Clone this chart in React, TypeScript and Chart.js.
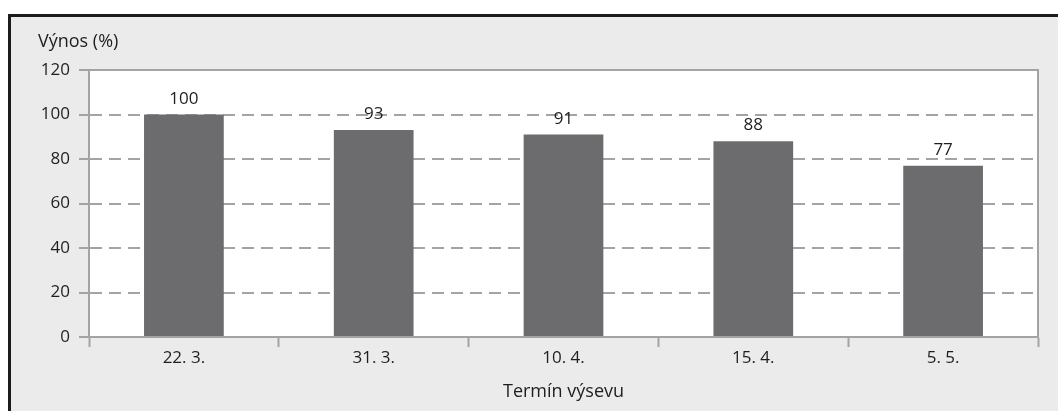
import React, { useEffect, useRef } from "react";
import { Chart, registerables } from "chart.js";

Chart.register(...registerables);

const categories = ["22. 3.", "31. 3.", "10. 4.", "15. 4.", "5. 5."];
const yieldValues = [100, 93, 91, 88, 77];
const yTicks = [0, 20, 40, 60, 80, 100, 120];
const yTitle = "Výnos (%)";
const xTitle = "Termín výsevu";

const FONT = "'Open Sans', 'Noto Sans', sans-serif";
const AXIS = "#a3a3a3";
const TEXT = "#1e1e1e";

const framePlugin = {
  id: "frame",
  beforeDraw(chart: any) {
    const { ctx, chartArea } = chart;
    ctx.save();
    ctx.fillStyle = "#ffffff";
    ctx.fillRect(chartArea.left, chartArea.top, chartArea.right - chartArea.left, chartArea.bottom - chartArea.top);
    ctx.restore();
  },
  afterDatasetsDraw(chart: any) {
    const { ctx, chartArea } = chart;
    ctx.save();
    ctx.strokeStyle = AXIS;
    ctx.lineWidth = 2;
    ctx.beginPath();
    ctx.moveTo(chartArea.left, chartArea.top);
    ctx.lineTo(chartArea.right, chartArea.top);
    ctx.lineTo(chartArea.right, chartArea.bottom);
    ctx.stroke();
    // data labels
    const meta = chart.getDatasetMeta(0);
    ctx.fillStyle = TEXT;
    ctx.font = `17px ${FONT}`;
    ctx.textAlign = "center";
    ctx.textBaseline = "alphabetic";
    meta.data.forEach((bar: any, i: number) => {
      ctx.fillText(String(yieldValues[i]), bar.x, bar.y - 11);
    });
    // y title
    ctx.textAlign = "left";
    ctx.textBaseline = "middle";
    ctx.font = `18px ${FONT}`;
    ctx.fillText(yTitle, 27, 25);
    ctx.restore();
  },
};

export default function App() {
  const ref = useRef<HTMLCanvasElement>(null);
  useEffect(() => {
    if (!ref.current) return;
    const chart = new Chart(ref.current, {
      type: "bar",
      data: {
        labels: categories,
        datasets: [
          {
            data: yieldValues,
            backgroundColor: "#6c6c6e",
            borderColor: "#8a8a8a",
            borderWidth: 0,
            barPercentage: 0.84,
            categoryPercentage: 0.5,
          },
        ],
      },
      options: {
        animation: false,
        responsive: false,
        maintainAspectRatio: false,
        layout: { padding: { left: 0, right: 20, top: 53, bottom: 0 } },
        plugins: { legend: { display: false }, tooltip: { enabled: false } },
        scales: {
          x: {
            offset: true,
            grid: {
              offset: true,
              drawOnChartArea: false,
              tickLength: 10,
              tickColor: AXIS,
              tickWidth: 2,
              color: AXIS,
            },
            border: { color: AXIS, width: 2 },
            ticks: { color: TEXT, font: { family: FONT, size: 17 }, padding: 1 },
            title: {
              display: true,
              text: xTitle,
              color: TEXT,
              font: { family: FONT, size: 18 },
              padding: { top: 0, bottom: 8 },
            },
            afterFit(scale: any) {
              scale.height = 74;
            },
          },
          y: {
            min: 0,
            max: 120,
            afterBuildTicks(scale: any) {
              scale.ticks = yTicks.map((v) => ({ value: v }));
            },
            grid: {
              color: (c: any) =>
                c.tick && (c.tick.value === 0 || c.tick.value === 120) ? "rgba(0,0,0,0)" : AXIS,
              lineWidth: 2,
              tickLength: 10,
              tickColor: AXIS,
              tickWidth: 2,
            },
            border: { color: AXIS, width: 2, dash: [12, 7] },
            ticks: { color: TEXT, font: { family: FONT, size: 17 }, padding: 9 },
            afterFit(scale: any) {
              scale.width = 78;
            },
          },
        },
      },
      plugins: [framePlugin],
    });
    return () => chart.destroy();
  }, []);

  return (
    <div
      style={{
        position: "fixed",
        left: 0,
        top: 0,
        width: 1058,
        height: 411,
        background: "#ffffff",
        overflow: "hidden",
      }}
    >
      <div
        style={{
          position: "absolute",
          left: 8,
          top: 14,
          width: 1050,
          height: 397,
          boxSizing: "border-box",
          borderTop: "3px solid #1c1c1c",
          borderLeft: "3px solid #1c1c1c",
          background: "#ebebeb",
        }}
      >
        <canvas ref={ref} width={1047} height={394} style={{ display: "block" }} />
      </div>
    </div>
  );
}
